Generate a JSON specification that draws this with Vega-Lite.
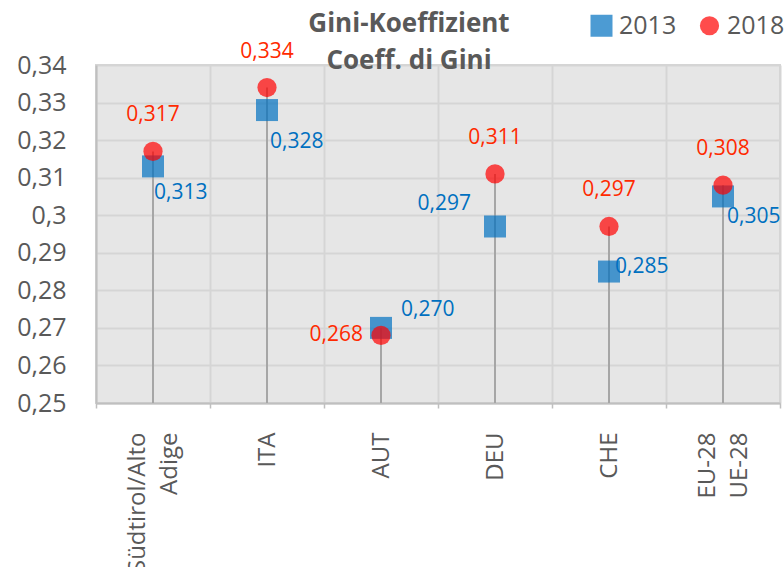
{
  "$schema": "https://vega.github.io/schema/vega-lite/v6.json",
  "width": 684,
  "height": 338,
  "autosize": {"type": "none"},
  "padding": {"left": 96, "top": 65, "right": 4, "bottom": 164},
  "config": {
    "locale": {"number": {"decimal": ",", "thousands": ".", "grouping": [3], "currency": ["", " €"]}},
    "font": "Open Sans",
    "view": {"fill": "#E6E6E6", "stroke": "#D5D5D5", "strokeWidth": 2}
  },
  "title": {
    "text": ["Gini-Koeffizient", "Coeff. di Gini"],
    "fontSize": 26,
    "fontWeight": "bold",
    "color": "#595959",
    "anchor": "middle",
    "frame": "group",
    "dx": -29,
    "dy": 61,
    "lineHeight": 37,
    "offset": 0
  },
  "data": {
    "values": [
      {"country": "Südtirol/Alto Adige", "year": "2013", "value": 0.313},
      {"country": "ITA", "year": "2013", "value": 0.328},
      {"country": "AUT", "year": "2013", "value": 0.270},
      {"country": "DEU", "year": "2013", "value": 0.297},
      {"country": "CHE", "year": "2013", "value": 0.285},
      {"country": "EU-28 UE-28", "year": "2013", "value": 0.305},
      {"country": "Südtirol/Alto Adige", "year": "2018", "value": 0.317},
      {"country": "ITA", "year": "2018", "value": 0.334},
      {"country": "AUT", "year": "2018", "value": 0.268},
      {"country": "DEU", "year": "2018", "value": 0.311},
      {"country": "CHE", "year": "2018", "value": 0.297},
      {"country": "EU-28 UE-28", "year": "2018", "value": 0.308}
    ]
  },
  "encoding": {
    "x": {
      "field": "country",
      "type": "nominal",
      "sort": ["Südtirol/Alto Adige", "ITA", "AUT", "DEU", "CHE", "EU-28 UE-28"],
      "scale": {"type": "band", "paddingInner": 0, "paddingOuter": 0},
      "axis": {
        "title": null,
        "labelAngle": -90,
        "labelAlign": "right",
        "labelBaseline": "middle",
        "labelFontSize": 24,
        "labelColor": "#595959",
        "labelPadding": 24,
        "labelLineHeight": 32,
        "labelLimit": 0,
        "labelOffset": {"condition": {"test": "datum.value == 'Südtirol/Alto Adige' || datum.value == 'EU-28 UE-28'", "value": -16}, "value": 0},
        "labelExpr": "datum.value == 'Südtirol/Alto Adige' ? ['Südtirol/Alto', 'Adige'] : datum.value == 'EU-28 UE-28' ? ['EU-28', 'UE-28'] : datum.value",
        "tickBand": "extent",
        "grid": true,
        "gridColor": "#D5D5D5",
        "gridWidth": 2,
        "domainColor": "#BFBFBF",
        "domainWidth": 2,
        "tickColor": "#BFBFBF",
        "tickSize": 5,
        "tickWidth": 1.5
      }
    },
    "y": {
      "field": "value",
      "type": "quantitative",
      "scale": {"domain": [0.25, 0.34], "nice": false, "zero": false},
      "axis": {
        "title": null,
        "values": [0.25, 0.26, 0.27, 0.28, 0.29, 0.30, 0.31, 0.32, 0.33, 0.34],
        "format": ".2~f",
        "labelFontSize": 25,
        "labelColor": "#595959",
        "labelPadding": 30,
        "ticks": false,
        "grid": true,
        "gridColor": "#D5D5D5",
        "gridWidth": 2,
        "domainColor": "#BFBFBF",
        "domainWidth": 2
      }
    }
  },
  "layer": [
    {
      "transform": [{"aggregate": [{"op": "max", "field": "value", "as": "value"}], "groupby": ["country"]}],
      "mark": {"type": "rule", "color": "#A6A6A6", "strokeWidth": 2},
      "encoding": {"y2": {"datum": 0.25}}
    },
    {
      "mark": {"type": "point", "filled": true, "opacity": 0.7},
      "encoding": {
        "color": {
          "field": "year",
          "type": "nominal",
          "scale": {"domain": ["2013", "2018"], "range": ["#0070C0", "#FF0000"]},
          "legend": {
            "title": null,
            "orient": "none",
            "legendX": 493,
            "legendY": -52,
            "direction": "horizontal",
            "labelFontSize": 25,
            "labelColor": "#595959",
            "symbolSize": 160,
            "labelOffset": 5,
            "columnPadding": 20
          }
        },
        "shape": {
          "field": "year",
          "type": "nominal",
          "scale": {"domain": ["2013", "2018"], "range": ["square", "circle"]}
        },
        "size": {
          "field": "year",
          "type": "ordinal",
          "scale": {"domain": ["2013", "2018"], "range": [484, 370]},
          "legend": null
        }
      }
    },
    {
      "transform": [{"filter": "datum.year == '2018' && datum.country != 'AUT'"}],
      "mark": {"type": "text", "fontSize": 21, "baseline": "middle", "align": "center", "dy": -36, "color": "#FF2A00"},
      "encoding": {"text": {"field": "value", "type": "quantitative", "format": ".3f"}}
    },
    {
      "transform": [{"filter": "datum.year == '2018' && datum.country == 'AUT'"}],
      "mark": {"type": "text", "fontSize": 21, "baseline": "middle", "align": "right", "dx": -18, "dy": 0, "color": "#FF2A00"},
      "encoding": {"text": {"field": "value", "type": "quantitative", "format": ".3f"}}
    },
    {
      "transform": [{"filter": "datum.year == '2013' && datum.country == 'Südtirol/Alto Adige'"}],
      "mark": {"type": "text", "fontSize": 21, "baseline": "middle", "align": "left", "dx": 1, "dy": 27, "color": "#0070C0"},
      "encoding": {"text": {"field": "value", "type": "quantitative", "format": ".3f"}}
    },
    {
      "transform": [{"filter": "datum.year == '2013' && datum.country == 'ITA'"}],
      "mark": {"type": "text", "fontSize": 21, "baseline": "middle", "align": "left", "dx": 3, "dy": 32, "color": "#0070C0"},
      "encoding": {"text": {"field": "value", "type": "quantitative", "format": ".3f"}}
    },
    {
      "transform": [{"filter": "datum.year == '2013' && datum.country == 'EU-28 UE-28'"}],
      "mark": {"type": "text", "fontSize": 21, "baseline": "middle", "align": "left", "dx": 4, "dy": 21, "color": "#0070C0"},
      "encoding": {"text": {"field": "value", "type": "quantitative", "format": ".3f"}}
    },
    {
      "transform": [{"filter": "datum.year == '2013' && datum.country == 'CHE'"}],
      "mark": {"type": "text", "fontSize": 21, "baseline": "middle", "align": "left", "dx": 6, "dy": -5, "color": "#0070C0"},
      "encoding": {"text": {"field": "value", "type": "quantitative", "format": ".3f"}}
    },
    {
      "transform": [{"filter": "datum.year == '2013' && datum.country == 'AUT'"}],
      "mark": {"type": "text", "fontSize": 21, "baseline": "middle", "align": "left", "dx": 20, "dy": -18, "color": "#0070C0"},
      "encoding": {"text": {"field": "value", "type": "quantitative", "format": ".3f"}}
    },
    {
      "transform": [{"filter": "datum.year == '2013' && datum.country == 'DEU'"}],
      "mark": {"type": "text", "fontSize": 21, "baseline": "middle", "align": "right", "dx": -24, "dy": -22, "color": "#0070C0"},
      "encoding": {"text": {"field": "value", "type": "quantitative", "format": ".3f"}}
    }
  ]
}
